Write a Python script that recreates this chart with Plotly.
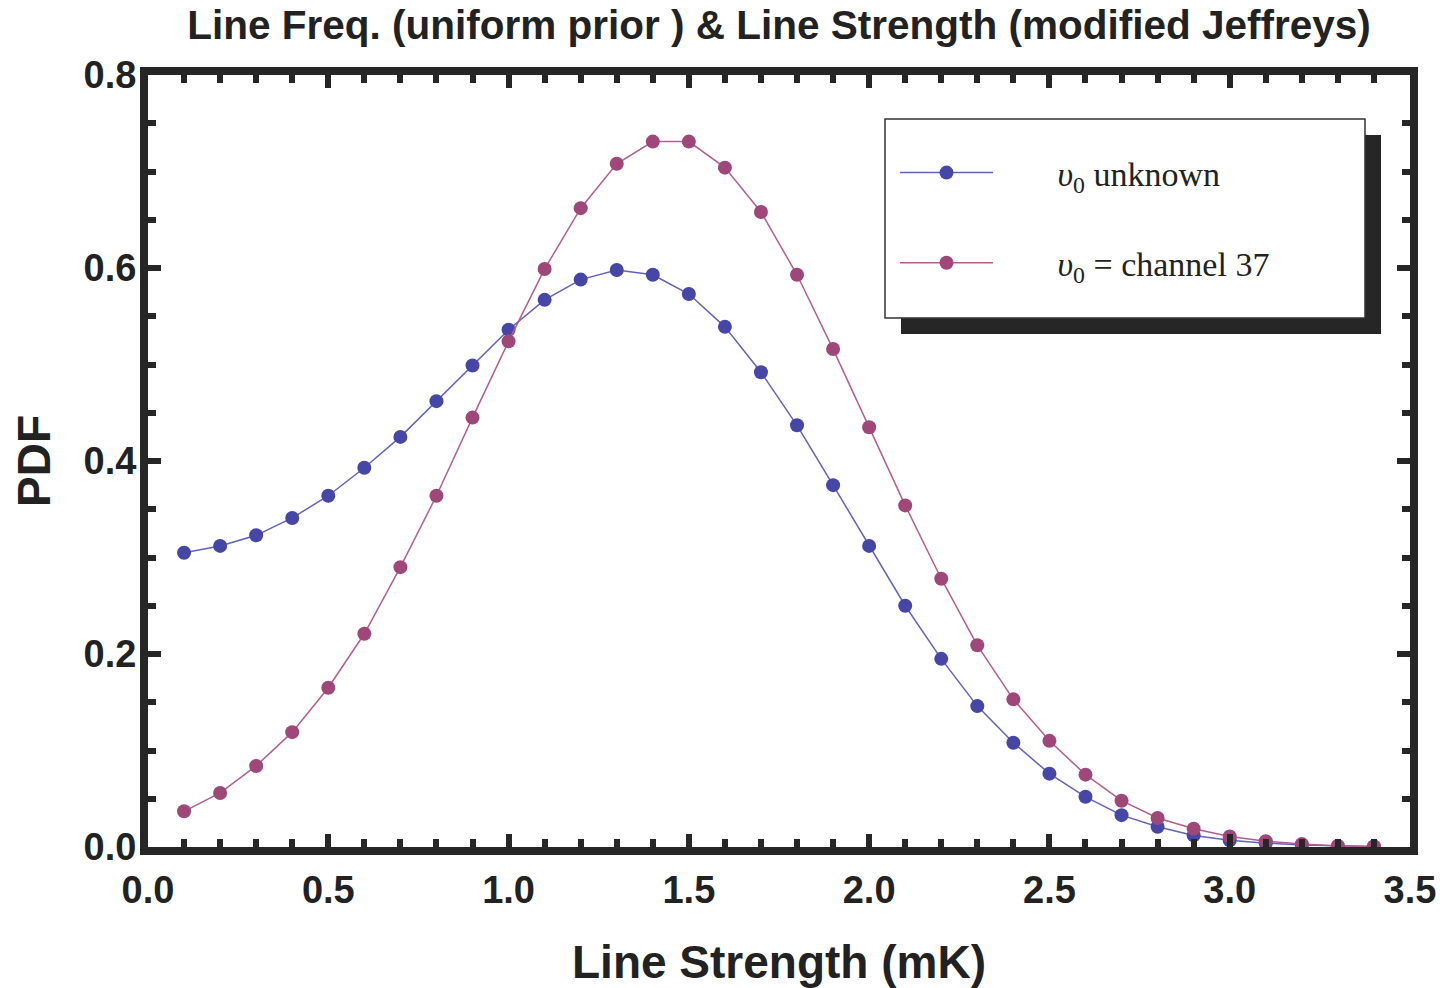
import plotly.graph_objects as go

x_vals = [round(0.1 * i, 1) for i in range(1, 35)]
pdf_unknown = [0.305, 0.312, 0.323, 0.341, 0.364, 0.393, 0.425, 0.462, 0.499, 0.536,
               0.567, 0.588, 0.598, 0.593, 0.573, 0.539, 0.492, 0.437, 0.375, 0.312,
               0.250, 0.195, 0.146, 0.108, 0.076, 0.052, 0.033, 0.021, 0.012, 0.007,
               0.004, 0.002, 0.001, 0.0005]
pdf_ch37 = [0.037, 0.056, 0.084, 0.119, 0.165, 0.221, 0.290, 0.364, 0.445, 0.524,
            0.599, 0.662, 0.708, 0.731, 0.731, 0.704, 0.658, 0.593, 0.516, 0.435,
            0.354, 0.278, 0.209, 0.153, 0.110, 0.075, 0.048, 0.030, 0.019, 0.011,
            0.006, 0.003, 0.001, 0.0005]
PAD = "\u00a0" * 7
names = [PAD + "<i>υ</i><sub>0</sub> unknown", PAD + "<i>υ</i><sub>0</sub> = channel 37"]

BLUE_M, BLUE_L = "#4646a6", "#6262bc"
RED_M, RED_L = "#a0477a", "#b45e8e"
FRAME = "#262626"
SANS = "Liberation Sans, Arial"

fig = go.Figure()
fig.add_trace(go.Scatter(x=x_vals, y=pdf_unknown, mode="lines+markers", name=names[0],
                         legendgroup="a",
                         line=dict(color=BLUE_L, width=1.5),
                         marker=dict(color=BLUE_M, size=14)))
fig.add_trace(go.Scatter(x=x_vals, y=pdf_ch37, mode="lines+markers", name=names[1],
                         legendgroup="b",
                         line=dict(color=RED_L, width=1.5),
                         marker=dict(color=RED_M, size=14)))

L, R, T, B = 148, 35, 75, 141
W, H = 1445, 988
pw, ph = W - L - R, H - T - B
def px(x): return (x - L) / pw
def py(y): return (H - B - y) / ph

axis_common = dict(showline=True, linewidth=8, linecolor=FRAME, mirror="ticks",
                   ticks="inside", ticklen=13, tickwidth=6, tickcolor=FRAME,
                   showgrid=False, zeroline=False, automargin=False,
                   tickfont=dict(family=SANS, size=38, color="#222", weight="bold"))

fig.update_xaxes(range=[0, 3.5], dtick=0.5, tick0=0, tickformat=".1f",
                 minor=dict(dtick=0.1, ticks="inside", ticklen=8, tickwidth=6, tickcolor=FRAME),
                 ticklabelstandoff=2,
                 title=dict(text="Line Strength (mK)", standoff=41,
                            font=dict(family=SANS, size=46, color="#222", weight="bold")),
                 **axis_common)
fig.update_yaxes(range=[0, 0.8], dtick=0.2, tick0=0, tickformat=".1f",
                 minor=dict(dtick=0.05, ticks="inside", ticklen=8, tickwidth=6, tickcolor=FRAME),
                 ticklabelstandoff=-4,
                 title=dict(text="PDF", standoff=21,
                            font=dict(family=SANS, size=46, color="#222", weight="bold")),
                 **axis_common)

# legend box with drop shadow
fig.add_shape(type="rect", xref="paper", yref="paper", layer="below",
              x0=px(901), x1=px(1381), y0=py(334), y1=py(135),
              fillcolor=FRAME, line=dict(width=0))
fig.add_shape(type="rect", xref="paper", yref="paper", layer="below",
              x0=px(885), x1=px(1365), y0=py(318), y1=py(119),
              fillcolor="white", line=dict(color="#333", width=1.5))

fig.update_layout(
    width=W, height=H,
    margin=dict(l=L, r=R, t=T, b=B),
    paper_bgcolor="white", plot_bgcolor="white",
    title=dict(text="Line Freq. (uniform prior ) & Line Strength (modified Jeffreys)",
               x=0.5, xanchor="center", xref="paper", y=1 - 25 / H, yanchor="middle",
               font=dict(family=SANS, size=40.5, color="#222", weight="bold")),
    legend=dict(x=px(895), y=py(144), xanchor="left", yanchor="top",
                bgcolor="rgba(0,0,0,0)", borderwidth=0, itemwidth=93,
                tracegroupgap=43,
                font=dict(family="Liberation Serif, Times New Roman", size=34, color="#222")),
    showlegend=True,
)

fig.write_html("out.html")
